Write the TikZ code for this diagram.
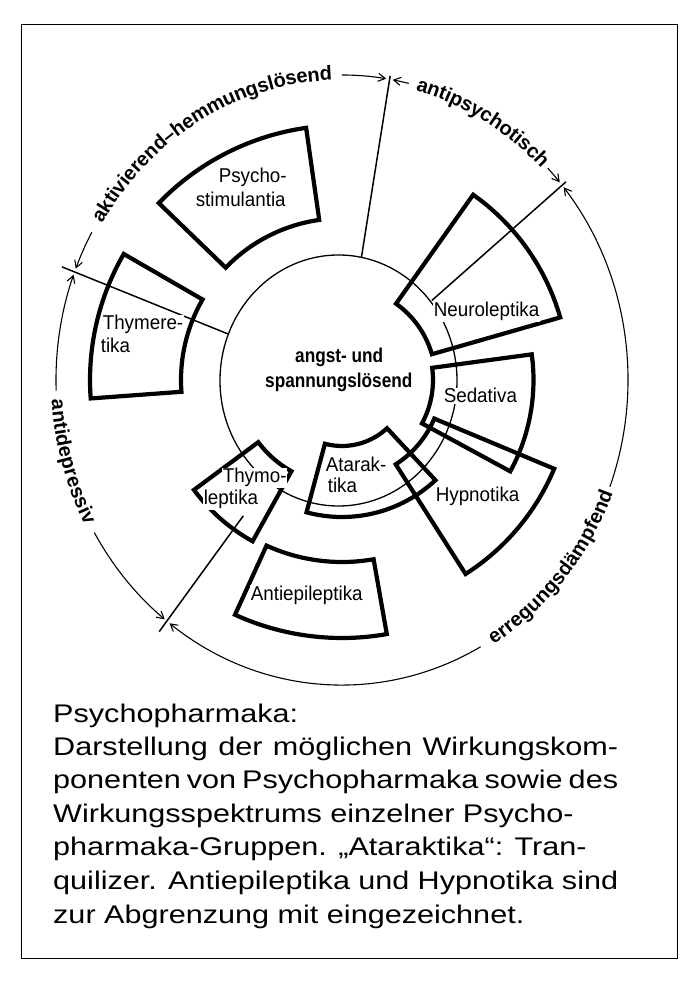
\documentclass[tikz,border=0pt]{standalone}
\usepackage{fontspec}
\setmainfont{Liberation Sans}
\newfontfamily\capfont{Liberation Sans}[FakeStretch=1.2]
\newfontfamily\cenfont{Liberation Sans}[FakeStretch=0.86]
\newfontfamily\labfont{Liberation Sans}[FakeStretch=0.94]
\usetikzlibrary{arrows.meta,decorations.text}
\tikzset{
  framel/.style={line width=1pt},
  boxline/.style={line width=4.2pt, line join=miter},
  thinring/.style={line width=1.3pt},
  divider/.style={line width=1.5pt},
  dimarc/.style={line width=1.1pt},
  dimarrow/.style={dimarc, -{Straight Barb[length=7pt,width=8pt,line width=1.1pt]}},
  lab/.style={font=\labfont\fontsize{20}{24}\selectfont, inner sep=0.6pt, fill=white, anchor=base west},
  cen/.style={font=\cenfont\bfseries\fontsize{20}{24}\selectfont, inner sep=0pt, anchor=base west},
  captext/.style={font=\capfont\fontsize{25.5}{30}\selectfont, inner sep=0pt, anchor=base west},
  arclabel/.style={decorate, decoration={text along path, text align=center, raise=-5pt,
      text={|\bfseries\fontsize{20}{24}\selectfont|#1}}},
}
\newcommand\sectorbox[4]{%
  \draw[boxline] (#1:#3) -- (#1:#4) arc[start angle=#1, end angle=#2, radius=#4]
    -- (#2:#3) arc[start angle=#2, end angle=#1, radius=#3] -- cycle;}
\newcommand\dimarcto[2]{%
  \draw[dimarrow] (#1:286 and 305) arc[start angle=#1, end angle=#2, x radius=286, y radius=305];}
\begin{document}
\begin{tikzpicture}[x=1pt,y=1pt]
\useasboundingbox (-342,-612) rectangle (350,380);
\fill[white] (-342,-612) rectangle (350,380);
\draw[framel] (-320,355) rectangle (335,-578);

% inner ring
\draw[thinring] (-3.5,-0.5) ellipse [x radius=118.5, y radius=125.5];

% dividers (radial ticks)
\coordinate (t1i) at (81:124);   \coordinate (t1o) at (81:308);
\coordinate (t2i) at (41.5:120); \coordinate (t2o) at (41.5:299);
\coordinate (t3i) at (158:123);  \coordinate (t3o) at (158:302);
\coordinate (t4i) at (234:168);  \coordinate (t4o) at (234:311);
\draw[divider] (t1i) -- (t1o);
\draw[divider] (t2i) -- (t2o);
\draw[divider] (t3i) -- (t3o);
\draw[divider] (t4i) -- (t4o);

% sectors
\sectorbox{98.1}{136}{161.7}{254.7}   % Psychostimulantia
\sectorbox{150}{184.2}{161}{252}      % Thymeretika
\sectorbox{16}{54.7}{93.5}{227}       % Neuroleptika
\sectorbox{-28.5}{7.7}{91}{191.5}     % Sedativa
\sectorbox{302.5}{337.3}{100}{230}    % Hypnotika
\sectorbox{255}{313}{66}{137}         % Ataraktika
\sectorbox{216.6}{241}{104.3}{184.4}  % Thymoleptika
\sectorbox{245.5}{280}{182}{258}      % Antiepileptika

% outer dimension arcs
\dimarcto{151}{158.6}
\dimarcto{90}{81.1}
\dimarcto{76.5}{79.8}
\dimarcto{44}{40.4}
\dimarcto{-20.5}{39.2}
\dimarcto{-61}{-127.1}
\dimarcto{182}{159.8}
\dimarcto{210}{231.7}

% arc labels
\path[arclabel={aktivierend–hemmungslösend}] (160:286 and 305) arc[start angle=160, end angle=80, x radius=286, y radius=305];
\path[arclabel={antipsychotisch}] (85:286 and 305) arc[start angle=85, end angle=35, x radius=286, y radius=305];
\path[arclabel={erregungsdämpfend}] (-75:286 and 305) arc[start angle=-75, end angle=-5.8, x radius=286, y radius=305];
\path[arclabel={antidepressiv}] (175:286 and 305) arc[start angle=175, end angle=216.8, x radius=286, y radius=305];

% box labels
\node[lab] (psy1) at (-124,197) {Psycho-};
\node[lab] (psy2) at (-147,173) {stimulantia};
\node[lab] (thr1) at (-240,50) {Thymere-};
\node[lab] (thr2) at (-242,27) {tika};
\node[lab] (neu) at (91,63) {Neuroleptika};
\node[lab] (sed) at (101,-23) {Sedativa};
\node[lab] (hyp) at (93,-122) {Hypnotika};
\node[lab] (ata1) at (-17,-92) {Atarak-};
\node[lab] (ata2) at (-15,-113) {tika};
\node[lab] (thl1) at (-120,-103) {Thymo-};
\node[lab] (thl2) at (-139,-125) {leptika};
\node[lab] (ant) at (-92,-220) {Antiepileptika};
\node[cen] (cen1) at (-47,17) {angst- und};
\node[cen] (cen2) at (-77,-8) {spannungslösend};

% caption
\node[captext] (c1) at (-289,-342) {Psychopharmaka:};
\node[captext] (c2) at (-289,-375) {\makebox[565pt][s]{Darstellung der möglichen Wirkungskom-}};
\node[captext] (c3) at (-289,-408.6) {\makebox[565pt][s]{ponenten von Psychopharmaka sowie des}};
\node[captext] (c4) at (-289,-442) {Wirkungsspektrums einzelner Psycho-};
\node[captext] (c5) at (-289,-475.8) {pharmaka-Gruppen. „Ataraktika“: Tran-};
\node[captext] (c6) at (-289,-509.4) {\makebox[565pt][s]{quilizer. Antiepileptika und Hypnotika sind}};
\node[captext] (c7) at (-289,-543) {zur Abgrenzung mit eingezeichnet.};
\end{tikzpicture}
\end{document}
